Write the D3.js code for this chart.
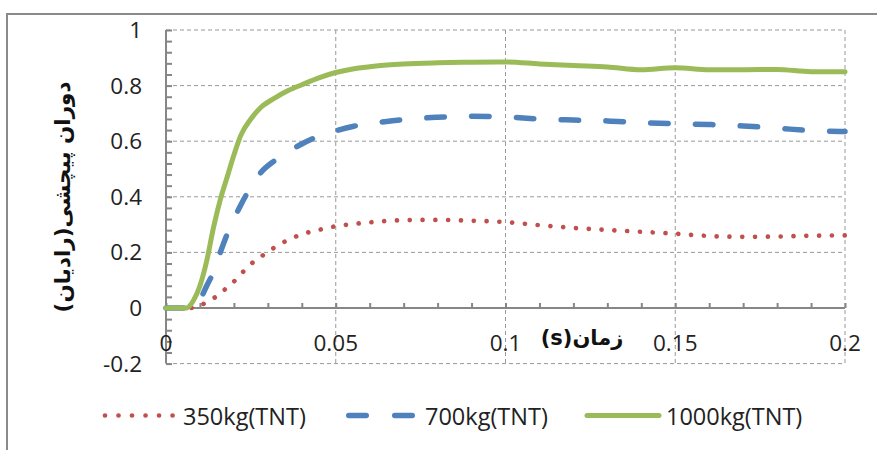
<!DOCTYPE html>
<html>
<head>
<meta charset="utf-8">
<script src="https://cdn.jsdelivr.net/npm/d3@7"></script>
<style>
  html, body { margin: 0; padding: 0; background: #fff; }
  svg { display: block; }
</style>
</head>
<body>
<div id="chart"></div>
<script>
// ---- data ----
const time = [0, 0.006, 0.008, 0.01, 0.012, 0.014, 0.016, 0.018, 0.02, 0.022, 0.025, 0.028, 0.032, 0.036, 0.04, 0.045, 0.05, 0.055, 0.06, 0.065, 0.07, 0.08, 0.09, 0.1, 0.11, 0.12, 0.13, 0.14, 0.15, 0.16, 0.17, 0.18, 0.19, 0.2];
const tnt350 = [0, 0, 0, 0.01, 0.02, 0.035, 0.052, 0.074, 0.095, 0.121, 0.158, 0.185, 0.218, 0.245, 0.265, 0.281, 0.294, 0.302, 0.308, 0.313, 0.316, 0.317, 0.314, 0.309, 0.298, 0.288, 0.281, 0.274, 0.267, 0.259, 0.256, 0.257, 0.26, 0.261];
const tnt700 = [0, 0, 0, 0.03, 0.08, 0.13, 0.2, 0.265, 0.32, 0.37, 0.435, 0.488, 0.53, 0.562, 0.59, 0.618, 0.637, 0.653, 0.664, 0.671, 0.678, 0.686, 0.69, 0.687, 0.68, 0.676, 0.673, 0.667, 0.663, 0.66, 0.655, 0.647, 0.638, 0.635];
const tnt1000 = [0, 0, 0.025, 0.08, 0.17, 0.29, 0.39, 0.47, 0.55, 0.62, 0.68, 0.722, 0.755, 0.782, 0.803, 0.828, 0.847, 0.86, 0.868, 0.874, 0.878, 0.882, 0.884, 0.885, 0.878, 0.872, 0.867, 0.857, 0.864, 0.857, 0.857, 0.858, 0.85, 0.85];
const seriesNames = ["350kg(TNT)", "700kg(TNT)", "1000kg(TNT)"];
const xTicks = [0, 0.05, 0.1, 0.15, 0.2];
const xTickLabels = ["0", "0.05", "0.1", "0.15", "0.2"];
const yTicks = [-0.2, 0, 0.2, 0.4, 0.6, 0.8, 1];
const yTickLabels = ["-0.2", "0", "0.2", "0.4", "0.6", "0.8", "1"];
const xTitle = "زمان(s)";
const yTitle = "دوران پیچشی(رادیان)";

// ---- setup ----
const W = 877, H = 450;
const svg = d3.select("#chart").append("svg").attr("width", W).attr("height", H);
const latin = "'Open Sans', 'Liberation Sans', sans-serif";
const arabic = "'DejaVu Sans', sans-serif";

// outer chart border (extends past the picture edge)
svg.append("rect").attr("x", 7).attr("y", 14).attr("width", 900).attr("height", 500)
  .attr("fill", "none").attr("stroke", "#8a8a8a").attr("stroke-width", 2);

const x = d3.scaleLinear().domain([0, 0.2]).range([166, 845]);
const y = d3.scaleLinear().domain([-0.2, 1]).range([363.6, 30]);

// gridlines
const grid = svg.append("g").attr("stroke", "#999").attr("stroke-width", 1).attr("stroke-dasharray", "4,3");
grid.selectAll("line.h").data(yTicks).join("line")
  .attr("x1", x(0)).attr("x2", x(0.2)).attr("y1", d => y(d)).attr("y2", d => y(d));
grid.selectAll("line.v").data(xTicks.filter(d => d > 0)).join("line")
  .attr("x1", d => x(d)).attr("x2", d => x(d)).attr("y1", y(1)).attr("y2", y(-0.2));

// y axis
const yAxis = d3.axisRight(y).tickValues(d3.range(-0.2, 1.0001, 0.04)).tickSize(6).tickFormat("");
const gy = svg.append("g").attr("transform", `translate(${x(0)},0)`).call(yAxis);
gy.select(".domain").attr("stroke", "#868686").attr("stroke-width", 2).attr("d", `M0,${y(-0.2)}V${y(1)}`);
gy.selectAll(".tick line").attr("stroke", "#868686").attr("stroke-width", 2);

// x axis at y=0
const xAxis = d3.axisTop(x).tickValues(d3.range(0, 0.2001, 0.01)).tickSize(5).tickFormat("");
const gx = svg.append("g").attr("transform", `translate(0,${y(0)})`).call(xAxis);
gx.select(".domain").attr("stroke", "#868686").attr("stroke-width", 2).attr("d", `M${x(0)},0H${x(0.2)}`);
gx.selectAll(".tick line").attr("stroke", "#868686").attr("stroke-width", 2);

// tick labels
svg.append("g").selectAll("text").data(yTicks).join("text")
  .attr("x", 142).attr("y", d => y(d) + 8)
  .attr("text-anchor", "end").attr("font-family", latin).attr("font-size", 22.5).attr("fill", "#222")
  .text((d, i) => yTickLabels[i]);
svg.append("g").selectAll("text").data(xTicks).join("text")
  .attr("x", d => x(d)).attr("y", 351)
  .attr("text-anchor", "middle").attr("font-family", latin).attr("font-size", 22.5).attr("fill", "#222")
  .text((d, i) => xTickLabels[i]);

// titles
svg.append("text").attr("x", 582).attr("y", 345).attr("direction", "rtl")
  .attr("text-anchor", "middle").attr("font-family", arabic).attr("font-weight", "bold")
  .attr("font-size", 21).attr("fill", "#111").text(xTitle);
svg.append("text").attr("transform", "translate(70,197) rotate(-90)").attr("direction", "rtl")
  .attr("text-anchor", "middle").attr("font-family", arabic).attr("font-weight", "bold")
  .attr("font-size", 21.5).attr("fill", "#111").text(yTitle);

// series
const styles = [
  { color: "#C0504D", width: 4.7, dash: "0.01,12.8", cap: "round" },
  { color: "#4F81BD", width: 5.5, dash: "17.5,27.3", cap: "round" },
  { color: "#9BBB59", width: 5, dash: null, cap: "round" }
];
const data = [tnt350, tnt700, tnt1000];
const line = d3.line().x(d => x(d[0])).y(d => y(d[1])).curve(d3.curveMonotoneX);
data.forEach((vals, i) => {
  const pts = time.map((t, j) => [t, vals[j]]);
  svg.append("path").datum(pts).attr("d", line)
    .attr("fill", "none").attr("stroke", styles[i].color).attr("stroke-width", styles[i].width)
    .attr("stroke-linecap", styles[i].cap).attr("stroke-linejoin", "round")
    .attr("stroke-dasharray", styles[i].dash);
});

// legend
const legendItems = [
  { x0: 105, x1: 173, tx: 183 },
  { x0: 346, x1: 415, tx: 425 },
  { x0: 587, x1: 659, tx: 666 }
];
const lg = svg.append("g");
legendItems.forEach((it, i) => {
  lg.append("line").attr("x1", it.x0 + (i === 1 ? 2.75 : 0)).attr("x2", it.x1 - (i === 1 ? 2.75 : 0))
    .attr("y1", 415.5).attr("y2", 415.5)
    .attr("stroke", styles[i].color).attr("stroke-width", styles[i].width)
    .attr("stroke-linecap", styles[i].cap)
    .attr("stroke-dasharray", i === 0 ? "0.01,13.5" : (i === 1 ? "17.5,28.5" : null));
  lg.append("text").attr("x", it.tx).attr("y", 425)
    .attr("font-family", latin).attr("font-size", 23.5).attr("fill", "#222").text(seriesNames[i]);
});
</script>
</body>
</html>
